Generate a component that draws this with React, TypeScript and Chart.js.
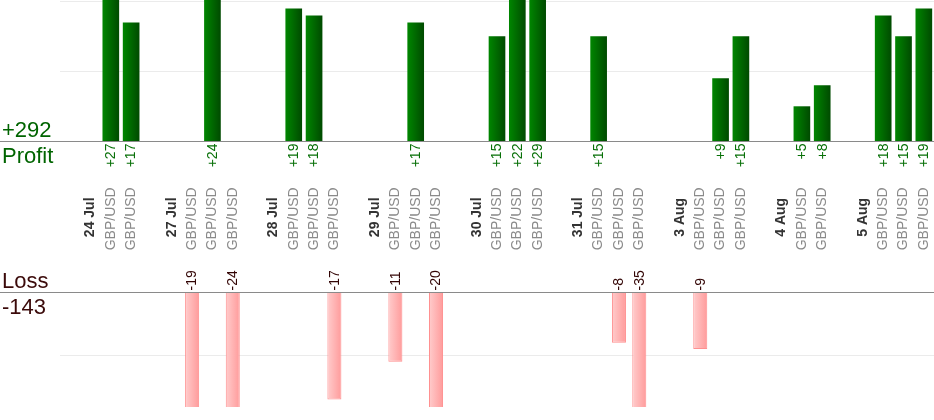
import React, { useEffect, useRef } from 'react';
import { Chart, registerables } from 'chart.js';

Chart.register(...registerables);

// ---- data ----
const days = ['24 Jul', '27 Jul', '28 Jul', '29 Jul', '30 Jul', '31 Jul', '3 Aug', '4 Aug', '5 Aug'];
const instrument = 'GBP/USD';
const tradeResults = [
  [27, 17],
  [-19, 24, -24],
  [19, 18, -17],
  [-11, 17, -20],
  [15, 22, 29],
  [15, -8, -35],
  [-9, 9, 15],
  [5, 8],
  [18, 15, 19],
];
const profitGridValues = [10, 20];
const lossGridValues = [-10];

// ---- slots built from the data ----
const slotLabels: string[] = [];
const slotKinds: string[] = [];
const slotValues: (number | null)[] = [];
days.forEach((d, i) => {
  slotLabels.push('');
  slotKinds.push('gap');
  slotValues.push(null);
  slotLabels.push(d);
  slotKinds.push('day');
  slotValues.push(null);
  tradeResults[i].forEach((v) => {
    slotLabels.push(instrument);
    slotKinds.push('trade');
    slotValues.push(v);
  });
});
const profitData = slotValues.map((v) => (v !== null && v > 0 ? v : null));
const lossData = slotValues.map((v) => (v !== null && v < 0 ? v : null));
const totalProfit = profitData.reduce((a: number, v) => a + (v || 0), 0);
const totalLoss = -lossData.reduce((a: number, v) => a + (v || 0), 0);

const FONT = '"Liberation Sans", Arial, sans-serif';
const PROFIT_BAR = 0.82;
const LOSS_BAR = 0.69;

function barGradient(c: any, pct: number, from: string, to: string, fallback: string) {
  const chart = c.chart;
  const xs = chart.scales && chart.scales.x;
  if (!chart.chartArea || !xs || c.type !== 'data') return fallback;
  const w = (xs.width / slotLabels.length) * pct;
  const cx = xs.getPixelForValue(c.dataIndex);
  const g = chart.ctx.createLinearGradient(cx - w / 2, 0, cx + w / 2, 0);
  g.addColorStop(0, from);
  g.addColorStop(1, to);
  return g;
}

const textPlugin = {
  id: 'panelText',
  afterDatasetsDraw(chart: any) {
    const ctx = chart.ctx;
    const xs = chart.scales.x;
    const p0 = chart.scales.yP.getPixelForValue(0);
    const l0 = chart.scales.yL.getPixelForValue(0);
    ctx.save();
    // baselines
    ctx.strokeStyle = '#8a8a8a';
    ctx.lineWidth = 1;
    [p0, l0].forEach((y) => {
      const yy = Math.round(y) + 0.5;
      ctx.beginPath();
      ctx.moveTo(0, yy);
      ctx.lineTo(chart.width, yy);
      ctx.stroke();
    });
    // totals
    ctx.font = '22px ' + FONT;
    ctx.textAlign = 'left';
    ctx.textBaseline = 'alphabetic';
    ctx.fillStyle = '#006400';
    ctx.fillText('+' + totalProfit, 2, p0 - 4);
    ctx.fillText('Profit', 2, p0 + 22);
    ctx.fillStyle = '#3b0a0a';
    ctx.fillText('Loss', 2, l0 - 4);
    ctx.fillText('-' + totalLoss, 2, l0 + 22);

    const mid = (p0 + l0) / 2;
    slotLabels.forEach((lab, i) => {
      const cx = xs.getPixelForValue(i);
      const kind = slotKinds[i];
      if (kind === 'day' || kind === 'trade') {
        ctx.save();
        ctx.translate(cx, mid + (kind === 'day' ? 0.5 : 2));
        ctx.rotate(-Math.PI / 2);
        ctx.textAlign = 'center';
        ctx.textBaseline = 'middle';
        ctx.font = (kind === 'day' ? 'bold ' : '') + '14px ' + FONT;
        ctx.fillStyle = kind === 'day' ? '#333333' : '#8a8a8a';
        ctx.fillText(lab, 0, 0);
        ctx.restore();
      }
      const v = slotValues[i];
      if (v !== null) {
        ctx.save();
        ctx.font = '14px ' + FONT;
        ctx.textBaseline = 'middle';
        if (v > 0) {
          ctx.translate(cx + 0.5, p0 + 2.3);
          ctx.rotate(-Math.PI / 2);
          ctx.textAlign = 'right';
          ctx.fillStyle = '#087008';
          ctx.fillText('+' + v, 0, 0);
        } else {
          ctx.translate(cx + 0.5, l0 - 1.8);
          ctx.rotate(-Math.PI / 2);
          ctx.textAlign = 'left';
          ctx.fillStyle = '#330505';
          ctx.fillText(String(v), 0, 0);
        }
        ctx.restore();
      }
    });
    ctx.restore();
  },
};

export default function App() {
  const ref = useRef<HTMLCanvasElement>(null);
  useEffect(() => {
    if (!ref.current) return;
    const chart = new Chart(ref.current, {
      type: 'bar',
      data: {
        labels: slotLabels,
        datasets: [
          {
            label: 'Profit',
            data: profitData,
            yAxisID: 'yP',
            grouped: false,
            categoryPercentage: 1,
            barPercentage: PROFIT_BAR,
            backgroundColor: (c: any) => barGradient(c, PROFIT_BAR, '#008600', '#004a00', '#006600'),
            borderWidth: 0,
          } as any,
          {
            label: 'Loss',
            data: lossData,
            yAxisID: 'yL',
            grouped: false,
            categoryPercentage: 1,
            barPercentage: LOSS_BAR,
            backgroundColor: (c: any) => barGradient(c, LOSS_BAR, '#ffcccc', '#ff9b9b', '#ffb0b0'),
            borderColor: '#ff9090',
            borderWidth: 1,
          } as any,
        ],
      },
      options: {
        responsive: false,
        animation: false,
        layout: { padding: { left: 60, right: 0, top: 0, bottom: 13 } },
        plugins: { legend: { display: false }, tooltip: { enabled: false }, title: { display: false } },
        scales: {
          x: { display: false, offset: true },
          yP: {
            position: 'left',
            min: -38,
            max: 20.2,
            afterBuildTicks: (axis: any) => {
              axis.ticks = profitGridValues.map((v) => ({ value: v }));
            },
            ticks: { display: false },
            grid: { color: '#ebebeb', drawTicks: false },
            border: { display: false },
          },
          yL: {
            position: 'left',
            min: -18.2,
            max: 46.4,
            afterBuildTicks: (axis: any) => {
              axis.ticks = lossGridValues.map((v) => ({ value: v }));
            },
            ticks: { display: false },
            grid: { color: '#ebebeb', drawTicks: false },
            border: { display: false },
          },
        },
      } as any,
      plugins: [textPlugin],
    });
    return () => chart.destroy();
  }, []);
  return (
    <div style={{ position: 'absolute', left: 0, top: 0, width: 934, height: 420, background: '#ffffff' }}>
      <canvas ref={ref} width={934} height={420} style={{ display: 'block' }} />
    </div>
  );
}
